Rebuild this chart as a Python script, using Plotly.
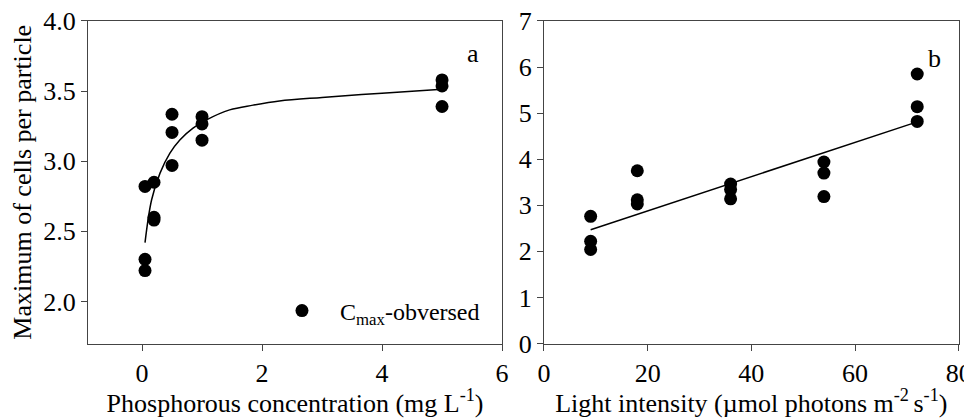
import plotly.graph_objects as go
from plotly.subplots import make_subplots

# Panel a: phosphorous concentration
p_x = [0.05, 0.05, 0.05, 0.2, 0.2, 0.2, 0.5, 0.5, 0.5, 1.0, 1.0, 1.0, 5.0, 5.0, 5.0]
p_y = [2.82, 2.30, 2.22, 2.85, 2.60, 2.58, 3.335, 3.205, 2.97, 3.318, 3.266, 3.15, 3.58, 3.537, 3.39]
p_fit_x = [0.05, 0.16, 0.30, 0.465, 0.63, 0.85, 1.075, 1.46, 1.85, 2.29, 3.0, 4.0, 5.0]
p_fit_y = [2.42, 2.725, 2.915, 3.058, 3.152, 3.236, 3.295, 3.366, 3.40, 3.43, 3.455, 3.485, 3.513]

# Panel b: light intensity
l_x = [9, 9, 9, 18, 18, 18, 36, 36, 36, 54, 54, 54, 72, 72, 72]
l_y = [2.76, 2.22, 2.04, 3.75, 3.12, 3.03, 3.46, 3.34, 3.14, 3.94, 3.70, 3.19, 5.85, 5.14, 4.82]
l_fit_x = [9, 72]
l_fit_y = [2.47, 4.81]

FONT = "Liberation Serif"
AX = "#444444"

fig = make_subplots(rows=1, cols=2)

fig.add_trace(go.Scatter(x=p_x, y=p_y, mode="markers", name="\u00a0\u00a0\u00a0C<sub>max</sub>-obversed",
                         marker=dict(color="black", size=13), showlegend=True), 1, 1)
fig.add_trace(go.Scatter(x=p_fit_x, y=p_fit_y, mode="lines", line=dict(color="black", width=1.5, shape="spline"),
                         showlegend=False), 1, 1)
fig.add_trace(go.Scatter(x=l_x, y=l_y, mode="markers", marker=dict(color="black", size=13),
                         showlegend=False), 1, 2)
fig.add_trace(go.Scatter(x=l_fit_x, y=l_fit_y, mode="lines", line=dict(color="black", width=1.5),
                         showlegend=False), 1, 2)

axcommon = dict(showline=True, linecolor=AX, linewidth=1, mirror=True, ticks="outside", ticklen=6,
                tickcolor=AX, showgrid=False, zeroline=False, automargin=False,
                ticklabeloverflow="allow",
                tickfont=dict(family=FONT, size=26, color="black"))
tfont = dict(family=FONT, size=26, color="black")

YDOM = [0.1817, 0.9683]

fig.update_xaxes(domain=[0.0830, 0.5125], range=[-0.9, 6], tickvals=[0, 2, 4, 6],
                 title=dict(text="Phosphorous concentration (mg L<sup>-1</sup>)", font=tfont, standoff=4),
                 **axcommon, row=1, col=1)
fig.update_yaxes(domain=YDOM, range=[1.7, 4.0], tickvals=[2.0, 2.5, 3.0, 3.5, 4.0], tickformat=".1f",
                 title=dict(text="Maximum of cells per particle", font=tfont, standoff=4),
                 **axcommon, row=1, col=1)
fig.update_xaxes(domain=[0.5560, 0.9862], range=[0, 80], tickvals=[0, 20, 40, 60, 80],
                 title=dict(text="Light intensity (µmol photons m<sup>-2 </sup>s<sup>-1</sup>)", font=tfont, standoff=4),
                 **axcommon, row=1, col=2)
fig.update_yaxes(domain=YDOM, range=[0, 7], tickvals=[0, 1, 2, 3, 4, 5, 6, 7],
                 **axcommon, row=1, col=2)

fig.add_annotation(text="a", x=0.949, y=0.95, xref="x domain", yref="y domain", showarrow=False,
                   font=tfont)
fig.add_annotation(text="b", x=0.962, y=0.935, xref="x2 domain", yref="y2 domain", showarrow=False,
                   font=tfont)

fig.update_layout(width=964, height=410, margin=dict(l=0, r=0, t=0, b=0),
                  paper_bgcolor="white", plot_bgcolor="white",
                  font=dict(family=FONT, color="black", size=26),
                  legend=dict(x=0.2842, y=0.261, xanchor="left", yanchor="middle", bgcolor="rgba(0,0,0,0)",
                              font=dict(family=FONT, size=24, color="black"), itemwidth=30))

fig.write_html("out.html")
